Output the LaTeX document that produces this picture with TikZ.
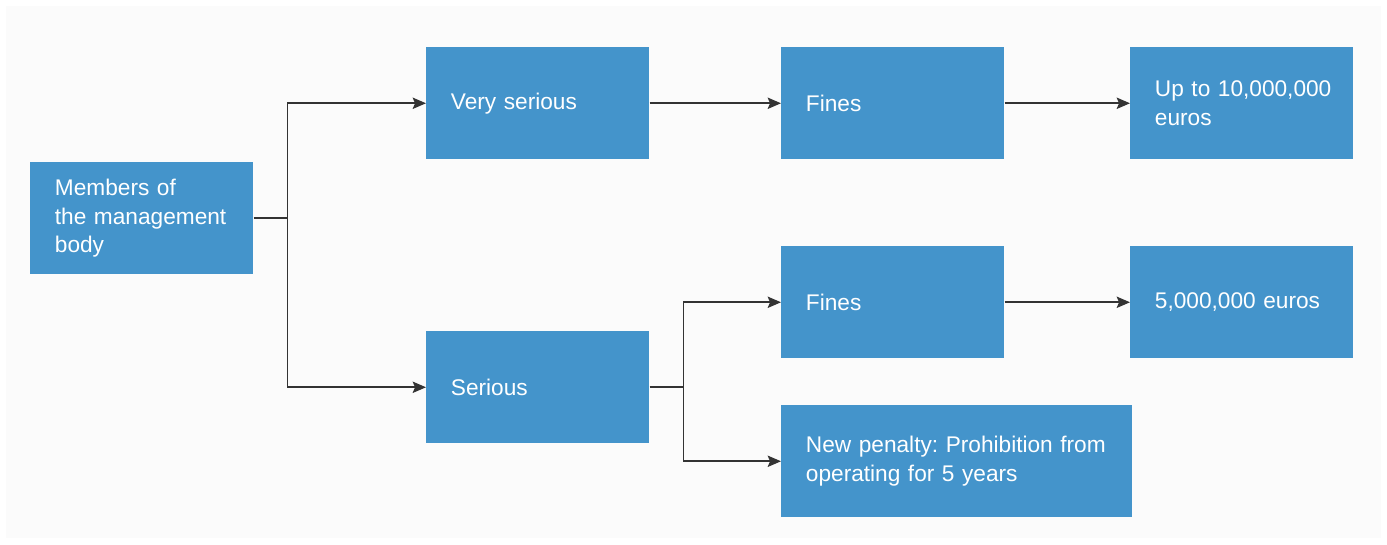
\documentclass[tikz,border=0pt]{standalone}
\usepackage{fontspec}
\setmainfont{Liberation Sans}
\usetikzlibrary{arrows.meta,positioning,calc}
\definecolor{penaltyblue}{HTML}{4494CB}
\definecolor{penaltyline}{HTML}{333333}
\definecolor{penaltyback}{HTML}{FBFBFB}

\begin{document}
\frenchspacing
\hyphenpenalty=10000
\begin{tikzpicture}[x=0.75pt,y=-0.75pt,
  box/.style={fill=penaltyblue,anchor=north west,text=white,align=left,
              inner xsep=18.5pt,text width=130.25pt,minimum height=84pt,
              font=\fontsize{17}{21.4}\selectfont},
  widebox/.style={box,text width=226.25pt},
  arr/.style={-{Stealth[length=10pt,width=8.5pt,inset=1.8pt]},line width=1.2pt,
              penaltyline}]
  \useasboundingbox (0,0) rectangle (1387,544);
  \fill[penaltyback] (6,6) rectangle (1381,538);
  \node[box] (mem) at (30,162) {Members of\\the management\\body};
  \node[box] (vser) at (426,47) {Very serious};
  \node[box] (ser) at (426,331) {Serious};
  \node[box] (finea) at (781,47) {Fines};
  \node[box] (fineb) at (781,246) {Fines};
  \node[box] (upto) at (1130,47) {\mbox{Up to 10,000,000}\\euros};
  \node[box] (five) at (1130,246) {5,000,000 euros};
  \node[widebox] (newp) at (781,405) {New penalty: Prohibition from\\operating for 5 years};
  \coordinate (forka) at ([xshift=25.5pt]mem.east);
  \coordinate (forkb) at ([xshift=25.5pt]ser.east);
  \draw[arr] (mem.east) -- (forka) |- (vser.west);
  \draw[arr] (forka) |- (ser.west);
  \draw[arr] (vser) -- (finea);
  \draw[arr] (finea) -- (upto);
  \draw[arr] (ser.east) -- (forkb) |- (fineb.west);
  \draw[arr] (forkb) |- (newp.west);
  \draw[arr] (fineb) -- (five);
\end{tikzpicture}
\end{document}
